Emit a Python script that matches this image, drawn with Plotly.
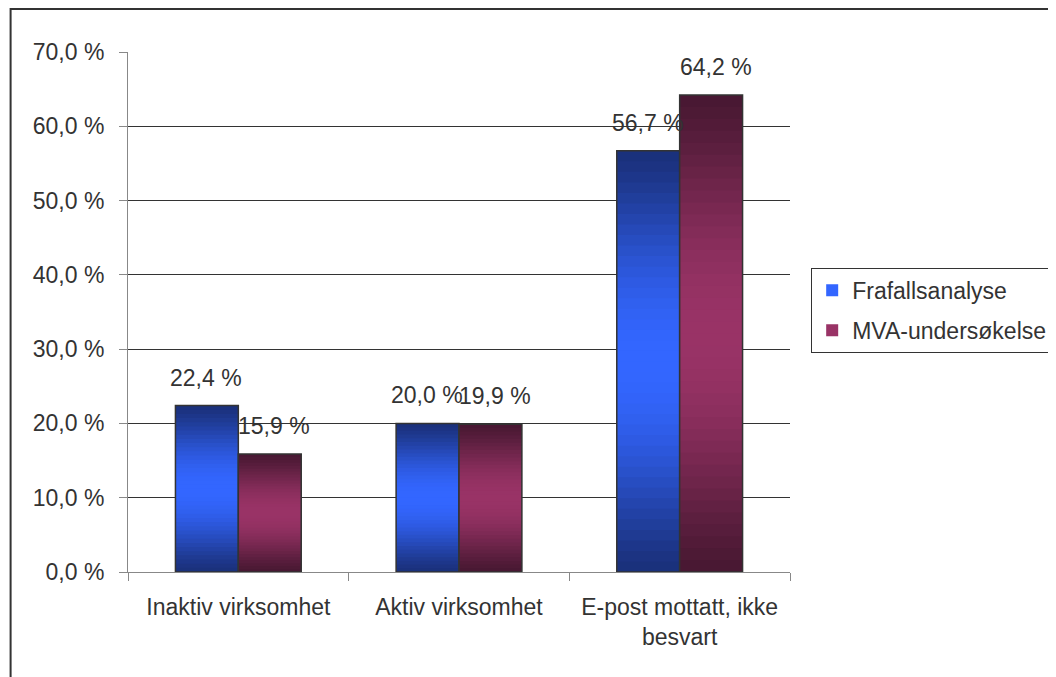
import math
import plotly.graph_objects as go

categories = ["Inaktiv virksomhet", "Aktiv virksomhet", "E-post mottatt, ikke<br>besvart"]
frafall = [22.4, 20.0, 56.7]
mva = [15.9, 19.9, 64.2]
y_ticks = [0, 10, 20, 30, 40, 50, 60, 70]

series = [
    ("Frafallsanalyse", frafall, (26, 48, 122), (51, 102, 255), -32),
    ("MVA-undersøkelse", mva, (72, 24, 50), (153, 51, 102), 36),
]

N_SLICES = 40
TEXT = "#333333"
FS = 23


def mix(c0, c1, w):
    return "rgb(%d,%d,%d)" % tuple(round(a + (b - a) * w) for a, b in zip(c0, c1))


def pct(v):
    return f"{v:.1f}".replace(".", ",") + " %"


fig = go.Figure()

for name, vals, dark, bright, _ in series:
    # gradient fill: stack thin slices, dark at ends, bright in the middle
    for k in range(N_SLICES):
        t = (k + 0.5) / N_SLICES
        w = math.sin(math.pi * t) ** 1.3
        # slices overlap a bit so no seams show; last one ends at the value
        h = 1.0 if k == N_SLICES - 1 else 1.8
        fig.add_trace(go.Bar(
            x=categories,
            y=[v * h / N_SLICES for v in vals],
            base=[v * k / N_SLICES for v in vals],
            offsetgroup=name,
            name=name,
            legendgroup=name,
            showlegend=(k == N_SLICES // 2),
            marker=dict(color=mix(dark, bright, w), line=dict(width=0)),
            hoverinfo="skip",
        ))
    # outline on top
    fig.add_trace(go.Bar(
        x=categories,
        y=vals,
        offsetgroup=name,
        name=name,
        legendgroup=name,
        showlegend=False,
        marker=dict(color="rgba(0,0,0,0)", line=dict(color="#333333", width=1.5)),
    ))

# value labels above bars
for name, vals, _, _, dx in series:
    for cat, v in zip(categories, vals):
        fig.add_annotation(
            x=cat, y=v, xref="x", yref="y",
            text=pct(v),
            showarrow=False, xshift=dx, yshift=13, yanchor="bottom",
            font=dict(size=FS, color=TEXT),
        )

fig.update_layout(
    width=1056,
    height=677,
    barmode="group",
    bargap=0.43,
    bargroupgap=0,
    paper_bgcolor="white",
    plot_bgcolor="white",
    font=dict(family="Liberation Sans, Arial, sans-serif", size=FS, color=TEXT),
    margin=dict(l=120, r=265, t=44, b=113),
    legend=dict(
        x=1.032, y=0.585, xanchor="left", yanchor="top",
        bordercolor="#333333", borderwidth=1, bgcolor="white",
        font=dict(size=FS, color=TEXT),
        traceorder="grouped", tracegroupgap=7,
    ),
    shapes=[dict(
        type="rect", xref="paper", yref="paper",
        x0=-119 / 671, x1=1.6, y0=-0.4, y1=1 + 43 / 520,
        line=dict(color="#333333", width=2), layer="below",
    )],
)

fig.update_yaxes(
    range=[0, 70],
    tickvals=y_ticks,
    ticktext=[pct(v) for v in y_ticks],
    showgrid=True,
    gridcolor="#333333",
    gridwidth=1,
    zeroline=False,
    showline=True,
    linecolor="#888888",
    ticks="outside",
    ticklen=8,
    tickcolor="#888888",
    ticklabelstandoff=10,
    tickfont=dict(size=FS, color=TEXT),
    automargin=False,
)
fig.update_xaxes(
    showline=True,
    linecolor="#888888",
    ticks="outside",
    tickson="boundaries",
    ticklen=8,
    tickcolor="#888888",
    ticklabelstandoff=14,
    tickfont=dict(size=FS, color=TEXT),
    automargin=False,
)

fig.write_html("out.html")
